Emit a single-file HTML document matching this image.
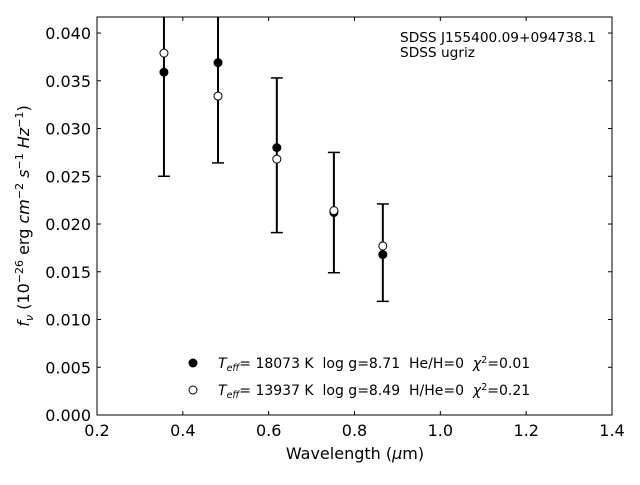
<!DOCTYPE html>
<html><head><meta charset="utf-8"><style>
body{margin:0;background:#fff}
svg text{font-family:"DejaVu Sans","Liberation Sans",sans-serif;fill:#000;white-space:pre}
</style></head><body>
<svg id="c" width="640" height="480" xmlns="http://www.w3.org/2000/svg"></svg>
<script>
const bandWave=[0.356,0.482,0.619,0.752,0.866];
const obsFlux=[0.0370,0.0369,0.0272,0.0212,0.0170];
const obsErr=[0.0120,0.0105,0.0081,0.0063,0.0051];
const modelA=[0.0359,0.0369,0.0280,0.0212,0.0168];
const modelB=[0.0379,0.0334,0.0268,0.0214,0.0177];
const xTicks=[0.2,0.4,0.6,0.8,1.0,1.2,1.4];
const yTicks=[0,0.005,0.01,0.015,0.02,0.025,0.03,0.035,0.04];
const L=97,R=612,T=17,B=415,xmin=0.2,xmax=1.4,ymin=0,ymax=0.04168;
const sx=v=>L+(v-xmin)/(xmax-xmin)*(R-L);
const sy=v=>B-(v-ymin)/(ymax-ymin)*(B-T);
const svg=document.getElementById('c');const NS='http://www.w3.org/2000/svg';
function mk(t,a,p){const e=document.createElementNS(NS,t);for(const k in a)e.setAttribute(k,a[k]);(p||svg).appendChild(e);return e;}
const defs=mk('clipPath',{id:'clip'});mk('rect',{x:L,y:T,width:R-L,height:B-T},defs);
const g=mk('g',{'clip-path':'url(#clip)'});
bandWave.forEach((w,i)=>{
 const x=sx(w),y1=sy(obsFlux[i]+obsErr[i]),y2=sy(obsFlux[i]-obsErr[i]);
 const l=mk('line',{x1:x,x2:x,y1:y1,y2:y2,stroke:'#000','stroke-width':2},g);
 
 mk('line',{x1:x-6,x2:x+6,y1:y1,y2:y1,stroke:'#000','stroke-width':1.5},g);
 mk('line',{x1:x-6,x2:x+6,y1:y2,y2:y2,stroke:'#000','stroke-width':1.5},g);
});
bandWave.forEach((w,i)=>{
 const a=mk('circle',{cx:sx(w),cy:sy(modelA[i]),r:4,fill:'#000',stroke:'#000'},g);
 
 const b=mk('circle',{cx:sx(w),cy:sy(modelB[i]),r:4,fill:'#fff',stroke:'#000'},g);
 
});
const fr=mk('rect',{x:L,y:T,width:R-L,height:B-T,fill:'none',stroke:'#000','stroke-width':1});

xTicks.forEach(v=>{const x=sx(v);
 mk('line',{x1:x,x2:x,y1:B,y2:B-4,stroke:'#000'});mk('line',{x1:x,x2:x,y1:T,y2:T+4,stroke:'#000'});
 const t=mk('text',{x:x,y:B+21,'text-anchor':'middle','font-size':16});t.textContent=v.toFixed(1);
 });
yTicks.forEach(v=>{const y=sy(v);
 mk('line',{x1:L,x2:L+4,y1:y,y2:y,stroke:'#000'});mk('line',{x1:R,x2:R-4,y1:y,y2:y,stroke:'#000'});
 const t=mk('text',{x:L-6,y:y+6,'text-anchor':'end','font-size':16});t.textContent=v.toFixed(3);
 });
</script>
<svg width="640" height="480" style="position:absolute;left:0;top:0" xmlns="http://www.w3.org/2000/svg">
<text x="355" y="459" text-anchor="middle" font-size="16">Wavelength (<tspan font-style="italic">μ</tspan>m)</text>
<text transform="translate(29,216) rotate(-90)" text-anchor="middle" font-size="16"><tspan font-style="italic">f<tspan font-size="11" dy="4">ν</tspan></tspan><tspan dy="-4"> (10</tspan><tspan font-size="11" dy="-6">−26</tspan><tspan dy="6"> erg </tspan><tspan font-style="italic">cm</tspan><tspan font-size="11" dy="-6">−2</tspan><tspan dy="6" font-style="italic"> s</tspan><tspan font-size="11" dy="-6">−1</tspan><tspan dy="6" font-style="italic"> Hz</tspan><tspan font-size="11" dy="-6">−1</tspan><tspan dy="6">)</tspan></text>
<text x="400" y="42" font-size="13.7">SDSS J155400.09+094738.1</text>
<text x="400" y="57" font-size="13.7">SDSS ugriz</text>
<g>
<circle cx="193" cy="363" r="4" fill="#000" stroke="#000"/>
<text x="218" y="368" font-size="14"><tspan font-style="italic">T<tspan font-size="9.5" dy="3">eff</tspan></tspan><tspan dy="-3">= 18073 K  log g=8.71  He/H=0  </tspan><tspan font-style="italic">χ</tspan><tspan font-size="9.5" dy="-5">2</tspan><tspan dy="5">=0.01</tspan></text>
<circle cx="193" cy="390" r="4" fill="#fff" stroke="#000"/>
<text x="218" y="395" font-size="14"><tspan font-style="italic">T<tspan font-size="9.5" dy="3">eff</tspan></tspan><tspan dy="-3">= 13937 K  log g=8.49  H/He=0  </tspan><tspan font-style="italic">χ</tspan><tspan font-size="9.5" dy="-5">2</tspan><tspan dy="5">=0.21</tspan></text>
</g>
</svg>
</body></html>
